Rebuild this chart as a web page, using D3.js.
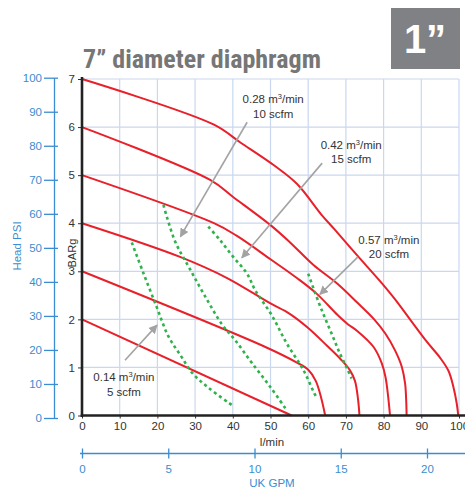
<!DOCTYPE html>
<html><head><meta charset="utf-8">
<script src="https://cdn.jsdelivr.net/npm/d3@7"></script>
<style>body{margin:0;background:#fff}svg{display:block}text{font-family:"Liberation Sans",Arial,Helvetica,sans-serif}</style>
</head><body><svg id="c" width="465" height="489"></svg>
<script>
// ---- data ----
const flowTicks = [0,10,20,30,40,50,60,70,80,90,100];
const barTicks = [0,1,2,3,4,5,6,7];
const psiTicks = [0,10,20,30,40,50,60,70,80,90,100];
const gpmTicks = [0,5,10,15,20];

// pressure curves (l/min, BARg)
const curveBar7 = [[0,7],[35,6.05],[42,5.68],[51,5.2],[57,4.82],[63.6,4.17],[67,3.87],[73,3.33],[79,2.8],[83,2.42],[87,2.0],[91.4,1.54],[95,1.2],[97.2,0.93],[98.5,0.6],[99.4,0.25],[99.8,0]];
const curveBar6 = [[0,6],[34,4.9],[40,4.55],[50,3.96],[55.2,3.6],[61.4,3.13],[67.6,2.75],[73,2.35],[77.5,2.0],[80.5,1.7],[83,1.36],[84.8,1.02],[85.7,0.67],[86,0.3],[86.1,0]];
const curveBar5 = [[0,5],[35,4.0],[41,3.74],[50,3.25],[57,2.86],[62.3,2.53],[67.8,2.09],[70.5,1.9],[73,1.76],[77.3,1.43],[79.5,1.09],[80.5,0.8],[81.2,0.4],[81.7,0]];
const curveBar4 = [[0,4],[26,3.3],[38.5,2.86],[50,2.33],[55,2.12],[60,1.82],[65,1.45],[68.5,1.18],[71,0.95],[72.4,0.72],[73.2,0.35],[73.6,0]];
const curveBar3 = [[0,3],[48.5,1.43],[57,1.1],[60,0.95],[62,0.72],[63.5,0.35],[64.5,0]];
const curveBar2 = [[0,2],[55.6,0]];

// air consumption curves (l/min, BARg)
const air014 = [[13.2,3.6],[16.3,2.96],[19.8,2.26],[22.9,1.65],[26.4,1.22],[29.3,0.88],[33.5,0.58],[39.7,0.22]];
const air028 = [[21.6,4.38],[24.7,3.62],[28.6,3.05],[32.5,2.5],[37.1,1.9],[40.6,1.57],[45,1.1],[49.9,0.6],[54.3,0.11]];
const air042 = [[33.5,3.93],[36.6,3.65],[40.1,3.3],[43.7,2.96],[46,2.6],[50.3,2.09],[54.3,1.5],[58.7,0.95],[61.4,0.5],[62.3,0.36]];
const air057 = [[60,2.95],[62.7,2.37],[64.5,2.02],[66.5,1.65],[68.4,1.29],[70.2,1.0],[71.5,0.77]];

const airLabelsM3 = ["0.14","0.28","0.42","0.57"];
const airLabelsScfm = ["5 scfm","10 scfm","15 scfm","20 scfm"];

const title = "7\u201D diameter diaphragm";
const badge = "1\u201D";

// ---- drawing ----
const svg = d3.select("#c");
svg.append("rect").attr("width",465).attr("height",489).attr("fill","#fff");

const x = d3.scaleLinear().domain([0,100]).range([82,459]);
const y = d3.scaleLinear().domain([0,7]).range([415.5,79]);
const yPsi = d3.scaleLinear().domain([0,100]).range([418,77.7]);
const xGpm = d3.scaleLinear().domain([0,20]).range([82,427]);

const blue = "#3a8dd0";
const gridC = "#c9d8ef";
const fs = 11.5;

// title & badge
svg.append("text").attr("x",83).attr("y",68).attr("fill","#767676")
  .attr("font-size",26).attr("font-weight","bold")
  .style("font-family","'Liberation Sans Narrow','Roboto Condensed','Arial Narrow',sans-serif")
  .attr("textLength",238).attr("lengthAdjust","spacingAndGlyphs").text(title);
svg.append("rect").attr("x",391).attr("y",8).attr("width",69).attr("height",61).attr("fill","#808184");
svg.append("text").attr("x",425).attr("y",53).attr("text-anchor","middle").attr("fill","#fff")
  .attr("font-size",40).attr("font-weight","bold").text(badge);

// grid
const g = svg.append("g");
g.selectAll("line.v").data(flowTicks.slice(1)).join("line")
  .attr("x1",d=>x(d)).attr("x2",d=>x(d)).attr("y1",y(0)).attr("y2",y(7))
  .attr("stroke",gridC).attr("stroke-width",1.2);
g.selectAll("line.h").data(barTicks.slice(1)).join("line").attr("class","h")
  .attr("x1",x(0)).attr("x2",x(100)).attr("y1",d=>y(d)).attr("y2",d=>y(d))
  .attr("stroke",gridC).attr("stroke-width",1.2);

// curves
const line = d3.line().x(d=>x(d[0])).y(d=>y(d[1])).curve(d3.curveCatmullRom.alpha(0.5));
[curveBar7,curveBar6,curveBar5,curveBar4,curveBar3,curveBar2].forEach(c=>{
  svg.append("path").attr("d",line(c)).attr("fill","none").attr("stroke","#e8202a").attr("stroke-width",2);
});
[air014,air028,air042,air057].forEach(c=>{
  svg.append("path").attr("d",line(c)).attr("fill","none").attr("stroke","#2fb24c")
    .attr("stroke-width",2.6).attr("stroke-dasharray","3,3.2");
});

// main axes
const yAx = svg.append("g").attr("transform",`translate(${x(0)},0)`)
  .call(d3.axisLeft(y).tickValues(barTicks).tickSize(4).tickPadding(3).tickFormat(d3.format("d")));
yAx.select(".domain").remove();
yAx.selectAll("line").attr("stroke","#333");
yAx.selectAll("text").attr("font-size",fs).attr("fill","#333");
const xAx = svg.append("g").attr("transform",`translate(0,${y(0)})`)
  .call(d3.axisBottom(x).tickValues(flowTicks).tickSize(3).tickPadding(3).tickFormat(d3.format("d")));
xAx.select(".domain").remove();
xAx.selectAll("line").attr("stroke","#333");
xAx.selectAll("text").attr("font-size",fs).attr("fill","#333");
svg.append("line").attr("x1",x(0)).attr("x2",x(0)).attr("y1",y(7)-2).attr("y2",y(0)+1.5)
  .attr("stroke","#222").attr("stroke-width",2.6);
svg.append("line").attr("x1",x(0)-1.3).attr("x2",465).attr("y1",y(0)).attr("y2",y(0))
  .attr("stroke","#222").attr("stroke-width",2.6);

svg.append("text").attr("transform",`translate(76,253) rotate(-90)`).attr("text-anchor","middle")
  .attr("font-size",11).attr("fill","#333").text("BARg");
svg.append("text").attr("x",272).attr("y",446).attr("text-anchor","middle")
  .attr("font-size",fs).attr("fill","#333").text("l/min");

// PSI axis
const psiAx = svg.append("g").attr("transform","translate(54,0)")
  .call(d3.axisLeft(yPsi).tickValues(psiTicks).tickSize(10).tickPadding(2).tickSizeOuter(0));
psiAx.select(".domain").attr("stroke",blue).attr("stroke-width",1.3);
psiAx.selectAll(".tick line").attr("stroke",blue).attr("stroke-width",1.3).attr("x2",-10).attr("x1",4);
psiAx.selectAll("text").attr("font-size",fs).attr("fill",blue);
svg.append("text").attr("transform",`translate(21,246) rotate(-90)`).attr("text-anchor","middle")
  .attr("font-size",fs).attr("fill",blue).text("Head PSI");

// GPM axis
const gpmAx = svg.append("g").attr("transform","translate(0,453.5)")
  .call(d3.axisBottom(xGpm).tickValues(gpmTicks).tickSize(5).tickPadding(6).tickSizeOuter(0));
gpmAx.select(".domain").remove();
gpmAx.selectAll(".tick line").attr("stroke",blue).attr("stroke-width",1.3).attr("y1",-5).attr("y2",5);
gpmAx.selectAll("text").attr("font-size",fs).attr("fill",blue);
svg.append("line").attr("x1",80).attr("x2",465).attr("y1",453.5).attr("y2",453.5).attr("stroke",blue).attr("stroke-width",1.3);
svg.append("text").attr("x",272).attr("y",487).attr("text-anchor","middle")
  .attr("font-size",fs).attr("fill",blue).text("UK GPM");

// annotations
const defs = svg.append("defs");
defs.append("marker").attr("id","ah").attr("viewBox","0 0 10 10").attr("refX",9).attr("refY",5)
  .attr("markerWidth",9).attr("markerHeight",9).attr("markerUnits","userSpaceOnUse").attr("orient","auto")
  .append("path").attr("d","M0,0L10,5L0,10z").attr("fill","#a3a3a3");

const notes = [
  {i:0, lx:11.1, ly1:0.72, ly2:0.41, a:[11.4,1.15,19.9,1.88]},
  {i:1, lx:50.7, ly1:6.5, ly2:6.19, a:[43.8,6.1,26.1,3.72]},
  {i:2, lx:71.4, ly1:5.54, ly2:5.25, a:[63.7,5.25,42.4,3.28]},
  {i:3, lx:81.4, ly1:3.57, ly2:3.28, a:[73.2,3.3,63.1,2.52]}
];
notes.forEach(n=>{
  svg.append("line").attr("x1",x(n.a[0])).attr("y1",y(n.a[1])).attr("x2",x(n.a[2])).attr("y2",y(n.a[3]))
    .attr("stroke","#a3a3a3").attr("stroke-width",1.6).attr("marker-end","url(#ah)");
  const t = svg.append("text").attr("x",x(n.lx)).attr("y",y(n.ly1)).attr("text-anchor","middle")
    .attr("font-size",fs).attr("fill","#333");
  t.append("tspan").text(airLabelsM3[n.i]+" m");
  t.append("tspan").attr("dy",-4).attr("font-size",7.5).text("3");
  t.append("tspan").attr("dy",4).text("/min");
  svg.append("text").attr("x",x(n.lx)).attr("y",y(n.ly2)).attr("text-anchor","middle")
    .attr("font-size",fs).attr("fill","#333").text(airLabelsScfm[n.i]);
});
</script></body></html>
